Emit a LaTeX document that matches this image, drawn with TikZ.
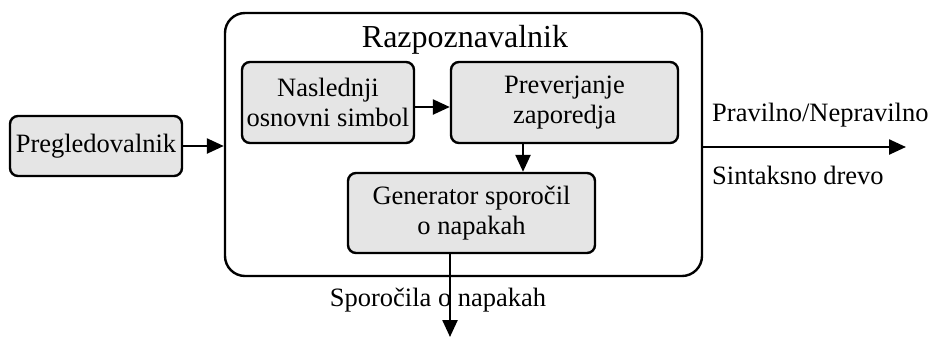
\documentclass[tikz,border=0pt]{standalone}
\usepackage{fontspec}
\setmainfont{Liberation Serif}
\usetikzlibrary{arrows.meta}
\begin{document}
\begin{tikzpicture}[x=1pt,y=1pt,
  box/.style={draw, line width=2.4pt, fill=black!10, rounded corners=8pt, align=center,
    font=\fontsize{26.5}{29.5}\selectfont, inner sep=0pt},
  lbl/.style={font=\fontsize{26.5}{29.5}\selectfont, inner sep=0pt},
  arr/.style={line width=2.4pt, -{Triangle[length=17pt,width=15pt]}},
  ln/.style={line width=2.4pt}]
\useasboundingbox (0,0) rectangle (928,-338);
\node[draw, line width=2.4pt, rounded corners=20pt, minimum width=477pt, minimum height=263pt, inner sep=0pt] (big) at (463.5,-144.5) {};
\node[font=\fontsize{32}{36}\selectfont, inner sep=0pt] (title) at (465,-40) {Razpoznavalnik};
\node[box, minimum width=172pt, minimum height=60pt] (pre) at (96,-146) {Pregledovalnik};
\node[box, minimum width=172pt, minimum height=81pt] (nas) at (328,-102.5) {Naslednji\\osnovni simbol};
\node[box, minimum width=227pt, minimum height=81pt] (prev) at (564.5,-102.5) {Preverjanje\\zaporedja};
\node[box, minimum width=247pt, minimum height=80pt] (gen) at (471.5,-213) {Generator sporočil\\o napakah};
\node[lbl] (spo) at (438,-300) {Sporočila o napakah};
\node[lbl, anchor=west] (prav) at (712,-115) {Pravilno/Nepravilno};
\node[lbl, anchor=west] (sint) at (712,-175) {Sintaksno drevo};
\coordinate (out) at (450,-337);
\coordinate (res) at (906,-147);
\draw[arr] (pre.east |- 0,-146) -- (big.west |- 0,-146);
\draw[arr] ([yshift=-4.5pt]nas.east) -- ([yshift=-4.5pt]prev.west);
\draw[arr] ([xshift=-41.5pt]prev.south) -- ([xshift=-41.5pt]prev.south |- gen.north);
\draw[arr] ([xshift=-21.5pt]gen.south) -- (out);
\draw[arr] (big.east |- res) -- (res);
\end{tikzpicture}
\end{document}
